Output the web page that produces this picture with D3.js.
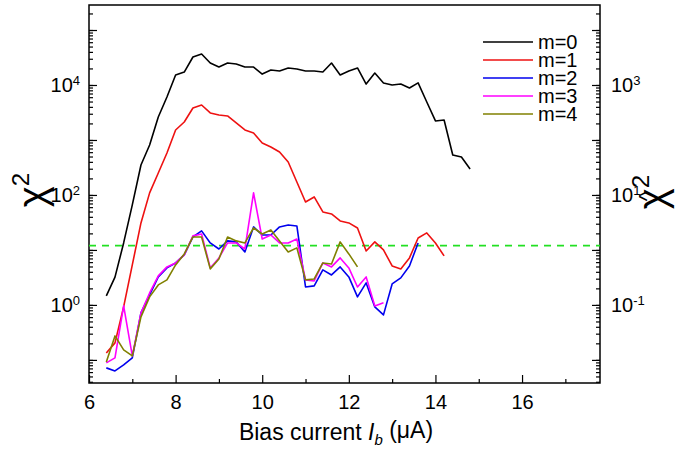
<!DOCTYPE html>
<html>
<head>
<meta charset="utf-8">
<script src="https://cdn.jsdelivr.net/npm/d3@7"></script>
<style>
body { margin: 0; background: #fff; }
text { font-family: "Liberation Sans", Arial, sans-serif; fill: #000; }
</style>
</head>
<body>
<script>
// bias current grid (uA), shared by all curves
var current = [6.4, 6.6, 6.8, 7.0, 7.2, 7.4, 7.6, 7.8, 8.0, 8.2, 8.4, 8.6, 8.8, 9.0, 9.2,
    9.4, 9.6, 9.8, 10.0, 10.2, 10.4, 10.6, 10.8, 11.0, 11.2, 11.4, 11.6, 11.8, 12.0, 12.2,
    12.4, 12.6, 12.8, 13.0, 13.2, 13.4, 13.6, 13.8, 14.0, 14.2, 14.4, 14.6, 14.8];

var chi0 = [1.46, 3.2, 13.4, 65.8, 351, 811, 2620, 6050, 15200, 17200, 32300, 36600, 25100, 21200, 25100,
    24100, 21200, 21200, 15800, 18700, 18000, 20400, 19500, 18000, 18000, 17200, 25100, 15200, 18000, 20400,
    10400, 16500, 10900, 10000, 10400, 8810, 10900, 4910, 2220, 2310, 534, 491, 297];
var chi1 = [0.134, 0.204, 0.92, 5.34, 31, 109, 251, 580, 1520, 2120, 3820, 4330, 3100, 2850, 2730,
    2040, 1520, 1340, 882, 746, 605, 398, 172, 74.6, 92, 49.1, 45.2, 33.7, 31, 25.1,
    9.59, 14, 10, 5.12, 4.52, 7.16, 16.5, 20.4, 13.4, 7.78];
var chi2 = [0.0716, 0.0631, 0.0811, 0.109, 0.716, 1.52, 3.23, 4.71, 5.80, 8.11, 17.2, 22.2, 13.4, 10.4, 14.6,
    14.0, 9.2, 26.2, 18.7, 18.7, 26.2, 28.5, 27.3, 2.12, 2.22, 4.33, 3.51, 4.91, 3.23, 1.40,
    2.51, 0.92, 0.658, 2.41, 3.10, 5.12, 13.4];
var chi3 = [0.0882, 0.109, 0.96, 0.118, 0.716, 1.65, 3.37, 4.91, 5.80, 8.11, 18.0, 19.5, 4.71, 7.16, 13.4,
    13.4, 10.4, 109, 15.8, 18.7, 13.4, 13.4, 15.8, 2.85, 2.73, 5.80, 4.91, 7.16, 4.71, 2.12,
    3.23, 0.96, 1.09];
var chi4 = [0.092, 0.273, 0.152, 0.118, 0.605, 1.40, 2.31, 2.85, 5.34, 8.46, 17.2, 17.2, 4.52, 6.86, 17.2,
    14.6, 13.4, 25.1, 19.5, 23.1, 14.6, 9.2, 10.9, 2.85, 2.97, 5.80, 5.56, 14.0, 8.46, 4.91];

var seriesNames = ["m=0", "m=1", "m=2", "m=3", "m=4"];
var seriesColors = ["#000000", "#ee1111", "#0000ee", "#ff00ff", "#808000"];
var chiRef = 12;   // green dashed level

var xTicks = [6, 8, 10, 12, 14, 16];
var xMinor = [7, 9, 11, 13, 15, 17];
var leftLabels = [1, 100, 10000];
var rightLabels = [0.1, 10, 1000];

var pLeft = 89, pRight = 600, pTop = 5, pBottom = 383;

var svg = d3.select("body").append("svg")
    .attr("width", 687)
    .attr("height", 450);

var x = d3.scaleLinear().domain([6, 17.8]).range([pLeft, pRight]);
var y = d3.scaleLog().domain([0.038, 2.85e5]).range([pBottom, pTop]);
var yR = d3.scaleLog().domain([0.0038, 2.85e4]).range([pBottom, pTop]);

function majors(s) {
    return s.ticks().filter(function(v) {
        return Math.abs(Math.log10(v) - Math.round(Math.log10(v))) < 1e-6;
    });
}

// bottom axis
svg.append("g")
    .attr("transform", "translate(0," + pBottom + ")")
    .call(d3.axisBottom(x).tickValues(xMinor).tickSize(-4).tickFormat(""));
svg.append("g")
    .attr("class", "xaxis")
    .attr("transform", "translate(0," + pBottom + ")")
    .call(d3.axisBottom(x).tickValues(xTicks).tickSize(-8).tickPadding(12).tickFormat(d3.format("d")));

// left axis
svg.append("g")
    .attr("transform", "translate(" + pLeft + ",0)")
    .call(d3.axisLeft(y).tickValues(y.ticks()).tickSize(-4).tickFormat(""));
svg.append("g")
    .attr("transform", "translate(" + pLeft + ",0)")
    .call(d3.axisLeft(y).tickValues(majors(y)).tickSize(-8).tickFormat(""));

// right axis
svg.append("g")
    .attr("transform", "translate(" + pRight + ",0)")
    .call(d3.axisRight(yR).tickValues(yR.ticks()).tickSize(-4).tickFormat(""));
svg.append("g")
    .attr("transform", "translate(" + pRight + ",0)")
    .call(d3.axisRight(yR).tickValues(majors(yR)).tickSize(-8).tickFormat(""));

svg.selectAll(".domain").remove();
svg.selectAll(".tick line").attr("stroke", "#000").attr("stroke-width", 1.2);
svg.selectAll(".xaxis text").attr("font-size", 20).attr("font-family", "Liberation Sans, Arial, sans-serif");

// frame
svg.append("rect")
    .attr("x", pLeft).attr("y", pTop)
    .attr("width", pRight - pLeft).attr("height", pBottom - pTop)
    .attr("fill", "none").attr("stroke", "#000").attr("stroke-width", 1.5);

function powerLabel(g, v, xx, anchor, s) {
    var t = g.append("text")
        .attr("x", xx)
        .attr("y", s(v))
        .attr("dy", "0.36em")
        .attr("font-size", 20)
        .attr("text-anchor", anchor);
    t.append("tspan").text("10");
    t.append("tspan").attr("dy", "-0.55em").attr("font-size", 13).text(Math.round(Math.log10(v)));
}
leftLabels.forEach(function(v) { powerLabel(svg, v, 80, "end", y); });
rightLabels.forEach(function(v) { powerLabel(svg, v, 611, "start", yR); });

// reference line
svg.append("line")
    .attr("x1", pLeft).attr("x2", pRight)
    .attr("y1", y(chiRef)).attr("y2", y(chiRef))
    .attr("stroke", "#22e022").attr("stroke-width", 1.6)
    .attr("stroke-dasharray", "7,6");

var line = d3.line()
    .x(function(d, i) { return x(current[i]); })
    .y(function(d) { return y(d); });

var allSeries = [chi0, chi1, chi2, chi3, chi4];
allSeries.forEach(function(vals, k) {
    svg.append("path")
        .datum(vals)
        .attr("fill", "none")
        .attr("stroke", seriesColors[k])
        .attr("stroke-width", 1.6)
        .attr("stroke-linejoin", "round")
        .attr("d", line);
});

// legend
var legend = svg.append("g");
seriesNames.forEach(function(name, k) {
    var ly = 42 + k * 18;
    legend.append("line")
        .attr("x1", 483).attr("x2", 533)
        .attr("y1", ly).attr("y2", ly)
        .attr("stroke", seriesColors[k]).attr("stroke-width", 1.6);
    legend.append("text")
        .attr("x", 538).attr("y", ly)
        .attr("dy", "0.36em")
        .attr("font-size", 20)
        .text(name);
});

// axis titles
var xt = svg.append("text")
    .attr("x", 336).attr("y", 440)
    .attr("text-anchor", "middle")
    .attr("font-size", 23);
xt.append("tspan").text("Bias current ");
xt.append("tspan").attr("font-style", "italic").text("I");
xt.append("tspan").attr("font-style", "italic").attr("font-size", 15).attr("dy", "0.3em").text("b");
xt.append("tspan").attr("dy", "-0.3em").text(" (\u03bcA)");

var ytl = svg.append("text")
    .attr("transform", "translate(46,190) rotate(-90)")
    .attr("text-anchor", "middle")
    .attr("font-family", "Liberation Serif, serif")
    .attr("font-size", 40);
ytl.append("tspan").text("\u03c7");
ytl.append("tspan").attr("font-size", 24).attr("dy", "-0.7em").attr("font-family", "Liberation Sans, Arial, sans-serif").text("2");

var ytr = svg.append("g").attr("transform", "translate(666,192) rotate(-90)");
var ytrText = ytr.append("text")
    .attr("text-anchor", "middle")
    .attr("font-family", "Liberation Serif, serif")
    .attr("font-size", 40);
ytrText.append("tspan").text("\u03c7");
ytrText.append("tspan").attr("font-size", 24).attr("dy", "-0.7em").attr("font-family", "Liberation Sans, Arial, sans-serif").text("2");
ytr.append("text")
    .attr("x", -4).attr("y", -12)
    .attr("text-anchor", "middle")
    .attr("font-size", 22)
    .text("^");
</script>
</body>
</html>
